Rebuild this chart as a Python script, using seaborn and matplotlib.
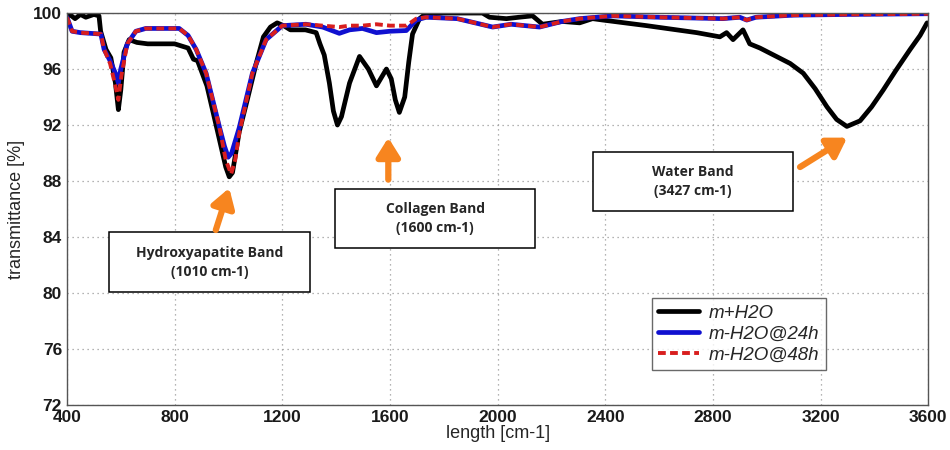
import matplotlib
matplotlib.use("Agg")
import matplotlib.pyplot as plt
from matplotlib.patches import Rectangle
import numpy as np
import pandas as pd
import seaborn as sns

x_wet = [400, 410, 430, 450, 470, 500, 519, 525, 545, 563, 580, 591, 600, 612, 631, 660,
         700, 800, 850, 870, 885, 920, 960, 990, 1003, 1015, 1040, 1070, 1103, 1130, 1156,
         1181, 1205, 1230, 1286, 1326, 1340, 1356, 1375, 1390, 1405, 1420, 1450, 1487, 1520,
         1550, 1587, 1605, 1620, 1635, 1655, 1670, 1684, 1710, 1730, 1800, 1944, 1970, 2033,
         2080, 2130, 2167, 2240, 2305, 2353, 2391, 2554, 2628, 2740, 2826, 2851, 2875, 2912,
         2937, 2975, 3087, 3136, 3180, 3224, 3260, 3298, 3347, 3390, 3433, 3480, 3533, 3570,
         3596]
y_wet = [99.7, 99.9, 99.6, 99.9, 99.7, 99.9, 99.8, 98.7, 97.4, 96.8, 95.0, 93.1, 94.5, 97.2,
         98.1, 97.9, 97.8, 97.8, 97.5, 96.7, 96.6, 94.8, 91.5, 89.0, 88.3, 88.6, 91.5, 93.8,
         96.4, 98.3, 99.0, 99.3, 99.1, 98.8, 98.8, 98.6, 97.8, 97.0, 95.0, 93.0, 92.0, 92.6,
         95.0, 96.9, 96.0, 94.8, 96.0, 95.3, 93.8, 92.9, 94.0, 96.5, 98.5, 99.6, 99.9, 100.0,
         100.0, 99.7, 99.6, 99.7, 99.8, 99.2, 99.4, 99.3, 99.6, 99.5, 99.1, 98.9, 98.6, 98.3,
         98.6, 98.1, 98.8, 97.8, 97.5, 96.4, 95.7, 94.6, 93.3, 92.4, 91.9, 92.3, 93.3, 94.5,
         95.9, 97.4, 98.4, 99.3]

x_24h = [400, 419, 450, 526, 538, 560, 580, 591, 600, 624, 656, 693, 817, 850, 880, 917,
         966, 985, 999, 1012, 1040, 1089, 1140, 1200, 1288, 1350, 1412, 1450, 1498, 1550,
         1600, 1661, 1698, 1735, 1850, 1982, 2050, 2156, 2240, 2305, 2428, 2600, 2837, 2900,
         2926, 2960, 3100, 3300, 3600]
y_24h = [99.7, 98.7, 98.6, 98.5, 97.4, 96.6, 95.7, 95.0, 96.0, 97.8, 98.7, 98.9, 98.9, 98.4,
         97.4, 95.7, 91.9, 90.5, 89.7, 90.0, 91.8, 95.7, 98.1, 99.1, 99.2, 99.0, 98.55, 98.8,
         98.9, 98.6, 98.7, 98.75, 99.5, 99.7, 99.6, 99.0, 99.2, 99.0, 99.4, 99.6, 99.8, 99.7,
         99.6, 99.7, 99.5, 99.7, 99.85, 99.9, 99.95]

x_48h = [400, 419, 450, 526, 538, 560, 580, 591, 602, 624, 656, 693, 817, 850, 880, 917,
         966, 990, 1010, 1025, 1040, 1089, 1140, 1200, 1288, 1350, 1412, 1450, 1498, 1550,
         1600, 1661, 1698, 1735, 1850, 1982, 2050, 2156, 2240, 2305, 2428, 2600, 2837, 2900,
         2926, 2960, 3100, 3300, 3600]
y_48h = [99.7, 98.7, 98.6, 98.5, 97.4, 96.4, 94.8, 93.8, 95.5, 97.8, 98.7, 98.9, 98.9, 98.4,
         97.4, 95.7, 91.9, 89.5, 88.5, 89.5, 91.4, 95.7, 98.1, 99.1, 99.2, 99.1, 99.0, 99.1,
         99.1, 99.2, 99.1, 99.1, 99.6, 99.7, 99.6, 99.0, 99.2, 99.0, 99.4, 99.6, 99.8, 99.7,
         99.6, 99.7, 99.5, 99.7, 99.85, 99.9, 99.95]

series_labels = ["m+H2O", "m-H2O@24h", "m-H2O@48h"]
x_ticks = [400, 800, 1200, 1600, 2000, 2400, 2800, 3200, 3600]
y_ticks = [72, 76, 80, 84, 88, 92, 96, 100]

band_texts = ["Hydroxyapatite Band\n(1010 cm-1)", "Collagen Band\n(1600 cm-1)",
              "Water Band\n(3427 cm-1)"]

# === Estilo ===
sns.set_style("white")
plt.rcParams["font.family"] = ["Liberation Sans", "DejaVu Sans"]

fig, ax = plt.subplots(figsize=(9.5, 4.5), dpi=100)
fig.subplots_adjust(left=0.0705, right=0.977, top=0.971, bottom=0.1)

sns.lineplot(x=x_wet, y=y_wet, ax=ax, color="black", lw=3.4, label=series_labels[0])
sns.lineplot(x=x_24h, y=y_24h, ax=ax, color="#1010d0", lw=3.4, label=series_labels[1])
sns.lineplot(x=x_48h, y=y_48h, ax=ax, color="#d81e1e", lw=2.8, ls=(0, (2.0, 1.1)),
             label=series_labels[2])

ax.set_xlim(400, 3600)
ax.set_ylim(72, 100)
ax.set_xticks(x_ticks)
ax.set_yticks(y_ticks)
ax.tick_params(direction="in", length=5, width=0.8, labelsize=12.5, colors="#1a1a1a")
for lab in ax.get_xticklabels() + ax.get_yticklabels():
    lab.set_fontweight("bold")
ax.grid(True, ls=(0, (1, 3)), color="#9a9a9a", lw=0.9)
for s in ax.spines.values():
    s.set_color("#555555")
    s.set_linewidth(1.0)

ax.set_xlabel("length [cm-1]", fontsize=13, labelpad=0)
ax.set_ylabel("transmittance [%]", fontsize=13, labelpad=6)

leg = ax.legend(loc="upper left", bbox_to_anchor=(0.668, 0.296), frameon=True,
                fancybox=False, edgecolor="#444444", handlelength=2.2, handletextpad=0.5,
                prop={"family": "Liberation Sans", "style": "italic", "size": 13.5},
                borderpad=0.35, labelspacing=0.2)
leg.get_frame().set_linewidth(1.0)

# === Cajas de anotación (coords. de ejes) ===
boxes = [(0.0488, 0.288, 0.233, 0.153), (0.311, 0.400, 0.233, 0.151),
         (0.611, 0.495, 0.232, 0.150)]
for (bx, by, bw, bh), txt in zip(boxes, band_texts):
    ax.add_patch(Rectangle((bx, by), bw, bh, transform=ax.transAxes, facecolor="white",
                           edgecolor="black", lw=1.1, zorder=5))
    ax.text(bx + bw / 2, by + bh / 2, txt, transform=ax.transAxes, ha="center",
            va="center", fontsize=10, fontweight="bold", family="Open Sans",
            linespacing=1.45, zorder=6)

# === Flechas naranjas ===
arrows = [((953, 84.5), (1003, 87.5)), ((1594, 88.1), (1594, 91.1)),
          ((3124, 89.0), (3299, 91.1))]
for tail, head in arrows:
    ax.annotate("", xy=head, xytext=tail,
                arrowprops=dict(arrowstyle="-|>,head_length=0.8,head_width=0.5",
                                color="#f7851f", lw=4.5, mutation_scale=14,
                                shrinkA=0, shrinkB=0), zorder=7)

plt.savefig("out.png", dpi=100)
